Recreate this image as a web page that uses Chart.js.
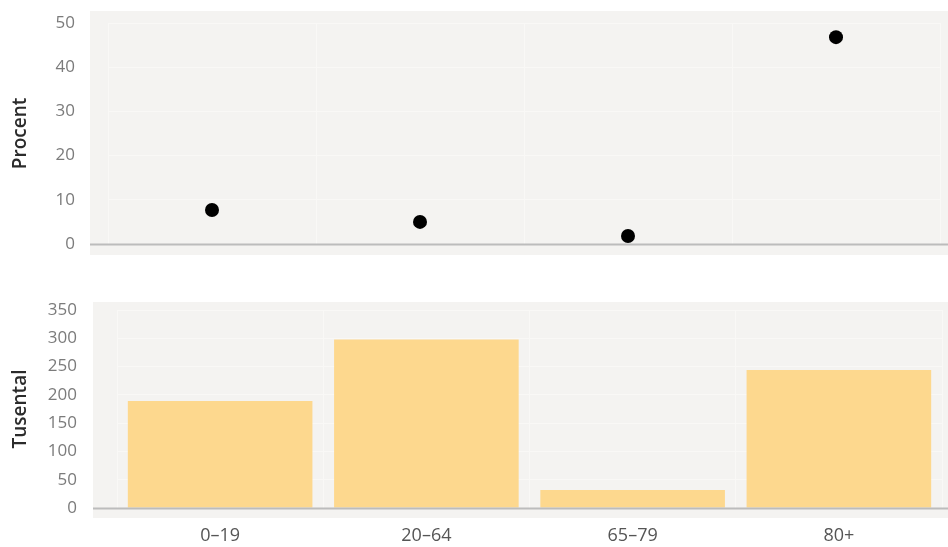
<!DOCTYPE html>
<html>
<head>
<meta charset="utf-8">
<script src="https://cdn.jsdelivr.net/npm/chart.js@4.4.1/dist/chart.umd.min.js"></script>
<style>
    html, body { margin: 0; padding: 0; background: #fff; }
    .panel { position: relative; width: 948px; }
    #top-panel { height: 270px; }
    #bottom-panel { height: 277px; }
</style>
</head>
<body>
<div class="panel" id="top-panel"><canvas id="chart-top"></canvas></div>
<div class="panel" id="bottom-panel"><canvas id="chart-bottom"></canvas></div>
<script>
const ageGroups = ['0–19', '20–64', '65–79', '80+'];
const percentValues = [7.7, 5.0, 1.8, 46.8];
const thousandValues = [189, 298, 32, 244];
const percentTicks = [0, 10, 20, 30, 40, 50];
const thousandTicks = [0, 50, 100, 150, 200, 250, 300, 350];

const FONT = '"Open Sans", "DejaVu Sans", sans-serif';
const PANEL_BG = '#f4f3f1';
const GRID = '#f9f8f6';
const ZERO_LINE = '#bcbcbc';
const TICK_COLOR = '#7b7b7b';

// background box padded a bit past the plot area, plus the zero line across it
const panelBackground = {
    id: 'panelBackground',
    beforeDraw(chart, args, opts) {
        const { ctx, chartArea } = chart;
        const left = chartArea.left - opts.left;
        const right = chartArea.right + opts.right;
        ctx.save();
        ctx.fillStyle = PANEL_BG;
        ctx.fillRect(left, chartArea.top - opts.top, right - left,
            chartArea.bottom - chartArea.top + opts.top + opts.bottom);
        ctx.restore();
    },
    afterDatasetsDraw(chart, args, opts) {
        const { ctx, chartArea, scales } = chart;
        const y0 = Math.round(scales.y.getPixelForValue(0)) + 0.5;
        ctx.save();
        ctx.strokeStyle = ZERO_LINE;
        ctx.lineWidth = 2;
        ctx.beginPath();
        ctx.moveTo(chartArea.left - opts.left, y0);
        ctx.lineTo(chartArea.right + opts.right, y0);
        ctx.stroke();
        ctx.restore();
    }
};

// tick gap done with an invisible tick mark: ticks.padding would also pad the plot vertically
function yAxis(title, tickValues, axisWidth, tickGap) {
    return {
        min: tickValues[0],
        max: tickValues[tickValues.length - 1],
        afterBuildTicks: axis => { axis.ticks = tickValues.map(v => ({ value: v })); },
        afterFit: axis => { axis.width = axisWidth; },
        border: { display: false },
        grid: { color: GRID, lineWidth: 1, drawTicks: true, tickLength: tickGap, tickColor: 'rgba(0,0,0,0)' },
        ticks: {
            color: TICK_COLOR,
            padding: 0,
            font: { family: FONT, size: 17 }
        },
        title: {
            display: true,
            text: title,
            color: '#2b2b2b',
            padding: { top: 9, bottom: 0 },
            font: { family: FONT, size: 19, weight: '600' }
        }
    };
}

new Chart(document.getElementById('chart-top'), {
    type: 'line',
    data: {
        labels: ageGroups,
        datasets: [{
            label: 'Procent',
            data: percentValues,
            showLine: false,
            pointRadius: 7,
            pointHoverRadius: 7,
            pointBackgroundColor: '#000',
            pointBorderColor: '#000',
            pointBorderWidth: 0
        }]
    },
    options: {
        responsive: true,
        maintainAspectRatio: false,
        animation: false,
        layout: { padding: { top: 23, bottom: 26, right: 8, left: 0 } },
        plugins: {
            legend: { display: false },
            tooltip: { enabled: false },
            panelBackground: { left: 18, right: 8, top: 12, bottom: 11 }
        },
        scales: {
            x: {
                type: 'category',
                offset: true,
                afterFit: axis => { axis.height = 0; },
                border: { display: false },
                grid: { color: GRID, offset: true, drawTicks: false },
                ticks: { display: false }
            },
            y: yAxis('Procent', percentTicks, 108, 33)
        }
    },
    plugins: [panelBackground]
});

new Chart(document.getElementById('chart-bottom'), {
    type: 'bar',
    data: {
        labels: ageGroups,
        datasets: [{
            label: 'Tusental',
            data: thousandValues,
            backgroundColor: '#fdd88e',
            borderWidth: 0,
            categoryPercentage: 1.0,
            barPercentage: 0.895
        }]
    },
    options: {
        responsive: true,
        maintainAspectRatio: false,
        animation: false,
        layout: { padding: { top: 40, bottom: 3, right: 6, left: 0 } },
        plugins: {
            legend: { display: false },
            tooltip: { enabled: false },
            panelBackground: { left: 24, right: 6, top: 8, bottom: 10 }
        },
        scales: {
            x: {
                afterFit: axis => { axis.height = 36; },
                border: { display: false },
                grid: { color: GRID, offset: true, drawTicks: false },
                ticks: {
                    color: '#555',
                    padding: 17,
                    font: { family: FONT, size: 18 }
                }
            },
            y: yAxis('Tusental', thousandTicks, 117, 40)
        }
    },
    plugins: [panelBackground]
});
</script>
</body>
</html>
